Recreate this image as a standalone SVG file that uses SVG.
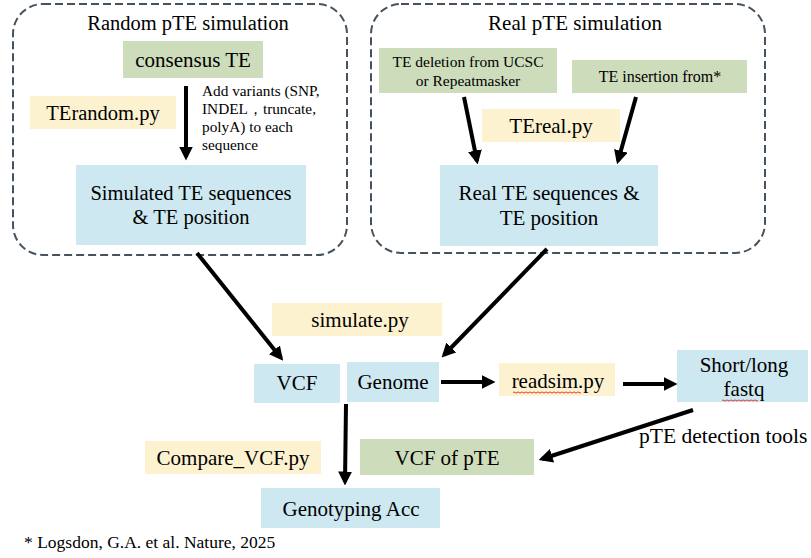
<svg xmlns="http://www.w3.org/2000/svg" width="811" height="558" viewBox="0 0 811 558" font-family="'Liberation Serif', 'Times New Roman', Times, 'DejaVu Serif', serif">
<defs>
<style>
.t20{font-size:21px}
.t14{font-size:15.5px}
.t13{font-size:15.3px}
.grp{fill:none;stroke:#46535e;stroke-width:2;stroke-dasharray:8 4}
.g{fill:#cddcbb}
.y{fill:#fdf2d0}
.b{fill:#cde8f0}
.arr{stroke:#000;stroke-width:4;fill:none;marker-end:url(#ah)}
.sq{fill:none;stroke:#e02020;stroke-width:0.9}
</style>
<marker id="ah" markerUnits="userSpaceOnUse" markerWidth="14" markerHeight="14" viewBox="0 0 12 12" refX="9" refY="6" orient="auto">
<path d="M0,0 L12,6 L0,12 z" fill="#000"/>
</marker>
</defs>
<rect width="811" height="558" fill="#fff"/>
<g id="random-group">
<rect class="grp" x="13" y="4" width="334" height="251" rx="30"/>
<text class="t20" x="188" y="30" text-anchor="middle" style="font-size:20.5px">Random pTE simulation</text>
</g>
<g id="real-group">
<rect class="grp" x="371" y="4" width="394" height="249" rx="30"/>
<text class="t20" x="575" y="30" text-anchor="middle">Real pTE simulation</text>
</g>
<g id="consensus">
<rect class="g" x="123" y="41" width="140" height="37"/>
<text class="t20" x="193" y="67" text-anchor="middle">consensus TE</text>
</g>
<g id="terandom">
<rect class="y" x="30" y="96" width="146" height="33"/>
<text class="t20" x="103" y="120" text-anchor="middle" style="font-size:20.5px">TErandom.py</text>
</g>
<g id="variants-note">
<text class="t13" x="202" y="96">Add variants (SNP,</text>
<text class="t13" x="202" y="114">INDEL，truncate,</text>
<text class="t13" x="202" y="132">polyA) to each</text>
<text class="t13" x="202" y="150">sequence</text>
</g>
<g id="simulated">
<rect class="b" x="76" y="165" width="230" height="80"/>
<text class="t20" x="191" y="200" text-anchor="middle" style="font-size:20.5px">Simulated TE sequences</text>
<text class="t20" x="191" y="224" text-anchor="middle" style="font-size:20.5px">&amp; TE position</text>
</g>
<g id="deletion">
<rect class="g" x="379" y="48" width="178" height="45"/>
<text class="t14" x="468" y="67" text-anchor="middle">TE deletion from UCSC</text>
<text class="t14" x="468" y="86" text-anchor="middle">or Repeatmasker</text>
</g>
<g id="insertion">
<rect class="g" x="572" y="60" width="175" height="33"/>
<text class="t14" x="660" y="82" text-anchor="middle" style="font-size:16px">TE insertion from*</text>
</g>
<g id="tereal">
<rect class="y" x="482" y="109" width="138" height="33"/>
<text class="t20" x="551" y="133" text-anchor="middle">TEreal.py</text>
</g>
<g id="real-seq">
<rect class="b" x="440" y="165" width="218" height="81"/>
<text class="t20" x="549" y="200" text-anchor="middle">Real TE sequences &amp;</text>
<text class="t20" x="549" y="225" text-anchor="middle">TE position</text>
</g>
<g id="simulate">
<rect class="y" x="272" y="303" width="170" height="33"/>
<text class="t20" x="360" y="327" text-anchor="middle">simulate.py</text>
</g>
<g id="vcf">
<rect class="b" x="254" y="364" width="86" height="39"/>
<text class="t20" x="297" y="390" text-anchor="middle">VCF</text>
</g>
<g id="genome">
<rect class="b" x="347" y="362" width="92" height="40"/>
<text class="t20" x="393" y="389" text-anchor="middle">Genome</text>
</g>
<g id="readsim">
<rect class="y" x="499" y="363" width="116" height="33"/>
<text class="t20" x="558" y="388" text-anchor="middle">readsim.py</text>
<path class="sq" d="M513,392.5 q1,-1.2 2,0 t2,0 t2,0 t2,0 t2,0 t2,0 t2,0 t2,0 t2,0 t2,0 t2,0 t2,0 t2,0 t2,0 t2,0 t2,0 t2,0 t2,0 t2,0 t2,0 t2,0 t2,0 t2,0 t2,0 t2,0 t2,0 t2,0 t2,0 t2,0 t2,0 t2,0 t2,0 t2,0 t2,0"/>
</g>
<g id="fastq">
<rect class="b" x="677" y="350" width="131" height="52"/>
<text class="t20" x="744" y="372" text-anchor="middle">Short/long</text>
<text class="t20" x="744" y="396" text-anchor="middle">fastq</text>
<path class="sq" d="M722,400.5 q1,-1.2 2,0 t2,0 t2,0 t2,0 t2,0 t2,0 t2,0 t2,0 t2,0 t2,0 t2,0 t2,0 t2,0 t2,0 t2,0 t2,0 t2,0 t2,0"/>
</g>
<g id="detection-label">
<text class="t20" x="639" y="443" style="font-size:21.5px">pTE detection tools</text>
</g>
<g id="vcf-pte">
<rect class="g" x="360" y="439" width="174" height="36"/>
<text class="t20" x="447" y="465" text-anchor="middle">VCF of pTE</text>
</g>
<g id="compare">
<rect class="y" x="145" y="441" width="176" height="33"/>
<text class="t20" x="233" y="465" text-anchor="middle">Compare_VCF.py</text>
</g>
<g id="genotyping">
<rect class="b" x="261" y="488" width="179" height="40"/>
<text class="t20" x="351" y="516" text-anchor="middle">Genotyping Acc</text>
</g>
<g id="footnote">
<text x="24" y="548" font-size="17.5">* Logsdon, G.A. et al. Nature, 2025</text>
</g>
<g id="connectors">
<line class="arr" x1="186" y1="86" x2="186" y2="157"/>
<line class="arr" x1="464" y1="97" x2="477" y2="161"/>
<line class="arr" x1="636" y1="97" x2="618" y2="161"/>
<line class="arr" x1="197" y1="253" x2="281" y2="358"/>
<line class="arr" x1="547" y1="249" x2="444" y2="355"/>
<line class="arr" x1="441" y1="382" x2="492" y2="382"/>
<line class="arr" x1="623" y1="384" x2="674" y2="384"/>
<line class="arr" x1="693" y1="410" x2="542" y2="459"/>
<line class="arr" x1="346" y1="404" x2="345" y2="482"/>
</g>
</svg>
